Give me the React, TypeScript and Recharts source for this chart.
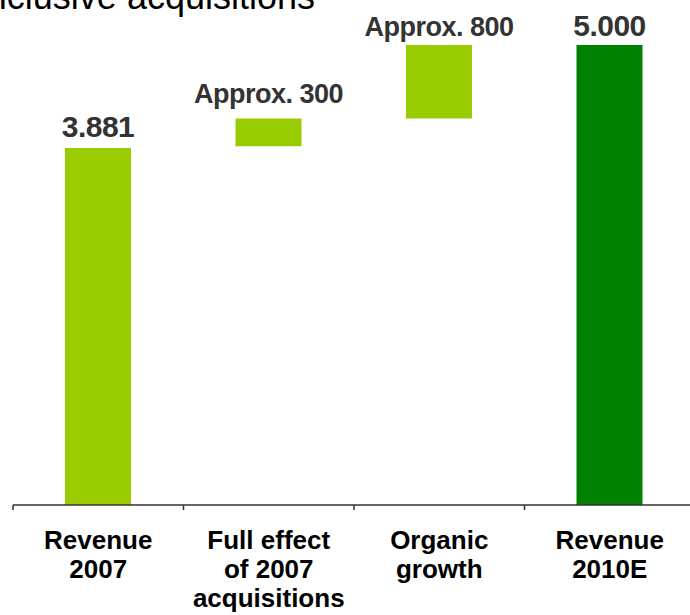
import { Bar, BarChart, Cell, LabelList, XAxis, YAxis } from 'recharts'

const CATEGORIES = [
  ['Revenue', '2007'],
  ['Full effect', 'of 2007', 'acquisitions'],
  ['Organic', 'growth'],
  ['Revenue', '2010E'],
]
const BASES = [0, 3900, 4200, 0]
const DELTAS = [3881, 300, 800, 5000]
const VALUE_LABELS = ['3.881', 'Approx. 300', 'Approx. 800', '5.000']
const TOTAL_FLAGS = [true, false, false, true]

const CHART_W = 696
const CHART_H = 615
const MARGIN = { top: 45, right: 1, bottom: 0, left: 13 }
const BAND = (CHART_W - MARGIN.left - MARGIN.right) / CATEGORIES.length

const LIGHT_GREEN = '#99cc00'
const DARK_GREEN = '#008000'
const FONT = '"Liberation Sans", Arial, Helvetica, sans-serif'
// how far above the bar top each label's baseline sits
const LABEL_LIFT = [11, 16, 9, 9]

const data = CATEGORIES.map((lines, i) => ({
  name: lines.join(' '),
  base: BASES[i],
  delta: DELTAS[i],
}))

function CategoryTick(props: any) {
  const { x, y, index } = props
  const lines = CATEGORIES[index] || []
  return (
    <g>
      <line x1={x - BAND / 2} x2={x - BAND / 2} y1={y} y2={y + 5} stroke="#333" strokeWidth={1.5} />
      <text x={x} y={y + 44} textAnchor="middle" fontFamily={FONT} fontWeight="bold" fontSize={26} fill="#000">
        {lines.map((line, i) => (
          <tspan key={i} x={x} dy={i === 0 ? 0 : 29}>
            {line}
          </tspan>
        ))}
      </text>
    </g>
  )
}

function ValueLabel(props: any) {
  const { x, y, width, index } = props
  const total = TOTAL_FLAGS[index]
  return (
    <text
      x={Number(x) + Number(width) / 2}
      y={Number(y) - LABEL_LIFT[index]}
      textAnchor="middle"
      fontFamily={FONT}
      fontWeight="bold"
      fontSize={total ? 30 : 27}
      letterSpacing={-0.5}
      fill="#333"
    >
      {VALUE_LABELS[index]}
    </text>
  )
}

export default function App() {
  return (
    <div
      style={{
        position: 'absolute',
        left: 0,
        top: 0,
        width: 690,
        height: 615,
        overflow: 'hidden',
        background: '#fff',
      }}
    >
      <svg width={690} height={40} style={{ position: 'absolute', left: 0, top: 0 }}>
        <text x={315} y={9} textAnchor="end" fontFamily={FONT} fontSize={36} fill="#000">
          inclusive acquisitions
        </text>
      </svg>
      <BarChart width={CHART_W} height={CHART_H} data={data} margin={MARGIN} barSize={66}>
        <XAxis
          dataKey="name"
          height={110}
          interval={0}
          tickSize={0}
          tickMargin={0}
          tickLine={false}
          axisLine={{ stroke: '#333', strokeWidth: 1.5 }}
          tick={<CategoryTick />}
        />
        <YAxis hide domain={[0, 5000]} />
        <Bar dataKey="base" stackId="w" fill="transparent" isAnimationActive={false} />
        <Bar dataKey="delta" stackId="w" isAnimationActive={false}>
          {data.map((_, i) => (
            <Cell key={i} fill={TOTAL_FLAGS[i] && i === data.length - 1 ? DARK_GREEN : LIGHT_GREEN} />
          ))}
          <LabelList dataKey="delta" content={<ValueLabel />} />
        </Bar>
      </BarChart>
    </div>
  )
}
